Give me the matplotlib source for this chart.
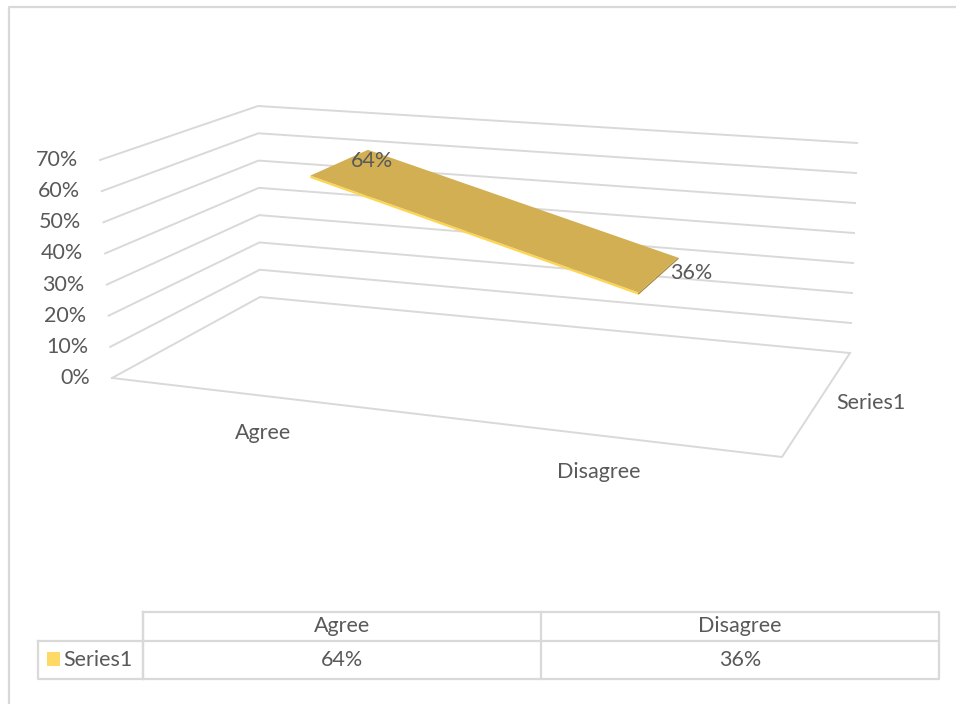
import numpy as np
import matplotlib.pyplot as plt
from matplotlib.patches import Polygon, Rectangle

categories = ['Agree', 'Disagree']
values = [0.64, 0.36]
series_name = 'Series1'
yticks = [0.0, 0.1, 0.2, 0.3, 0.4, 0.5, 0.6, 0.7]

plt.rcParams['font.family'] = ['Lato', 'DejaVu Sans']
TXT = '#595959'
GRID = '#D9D9D9'
FS = 15.5

# corners of the 3d box in pixels: (x, depth, z) -> screen
ZMAX = 0.7
C = {
    (0, 0, 0): (112, 378), (1, 0, 0): (782, 457),
    (0, 1, 0): (260, 297), (1, 1, 0): (850, 353),
    (0, 0, 1): (100, 160), (1, 0, 1): (779, 217),
    (0, 1, 1): (258, 106), (1, 1, 1): (857, 143),
}


def proj(x, d, z):
    t = z / ZMAX
    out = np.zeros(2)
    for i in (0, 1):
        for j in (0, 1):
            for k in (0, 1):
                w = (x if i else 1 - x) * (d if j else 1 - d) * (t if k else 1 - t)
                out += w * np.array(C[(i, j, k)])
    return out


fig = plt.figure(figsize=(9.56, 7.04), dpi=100)
ax = fig.add_axes([0, 0, 1, 1])
ax.set_xlim(0, 956)
ax.set_ylim(704, 0)
ax.axis('off')

# chart border (cropped at right/bottom)
ax.plot([9, 9, 956], [704, 7, 7], color=GRID, lw=1.6)

# walls gridlines
for z in yticks:
    a, b, c = proj(0, 0, z), proj(0, 1, z), proj(1, 1, z)
    ax.plot([a[0], b[0], c[0]], [a[1], b[1], c[1]], color=GRID, lw=1.4, zorder=1)
    ax.text(a[0] - 22, a[1], f'{z:.0%}', ha='right', va='center',
            fontsize=FS, color=TXT)

# floor front and right edges
f0, f1, f2 = proj(0, 0, 0), proj(1, 0, 0), proj(1, 1, 0)
ax.plot([f0[0], f1[0], f2[0]], [f0[1], f1[1], f2[1]], color=GRID, lw=1.4)

# 3d line ribbon
xs = [0.25 + 0.5 * i for i in range(len(categories))]
d0, d1 = 0.29, 0.71
for i in range(len(values) - 1):
    p1 = proj(xs[i], d0, values[i])
    p2 = proj(xs[i], d1, values[i])
    p3 = proj(xs[i + 1], d1, values[i + 1])
    p4 = proj(xs[i + 1], d0, values[i + 1])
    ax.plot([p1[0], p4[0]], [p1[1] + 1.2, p4[1] + 1.2], color='#FFD54F', lw=1.6,
            solid_capstyle='butt', zorder=3)
    ax.add_patch(Polygon([p1, p2, p3, p4], closed=True, facecolor='#D1AF52',
                         edgecolor='none', zorder=4))
    ax.plot([p4[0], p3[0]], [p4[1] + 1, p3[1] + 1], color='#A88A3A', lw=1.0,
            zorder=3)

# data labels
for x, v in zip(xs, values):
    p = proj(x, 0.5, v)
    ax.text(p[0] + 33, p[1] - 2, f'{v:.0%}', ha='center', va='center',
            fontsize=FS, color=TXT, zorder=5)

# category labels
for x, c in zip(xs, categories):
    p = proj(x, 0, 0)
    ax.text(p[0] - 16, p[1] + 35, c, ha='center', va='center',
            fontsize=FS, color=TXT)

# series (depth) label
p = proj(1, 0.5, 0)
ax.text(p[0] + 20, p[1] - 2, series_name, ha='left', va='center',
        fontsize=FS, color=TXT)

# data table
x0, xa, xb, x1 = 38, 143, 541, 939
yt, ym, yb = 612, 641, 679
ax.plot([xa, x1, x1, xa, xa], [yt, yt, yb, yb, yt], color=GRID, lw=1.6)
ax.plot([x0, x1], [ym, ym], color=GRID, lw=1.6)
ax.plot([x0, x0, xa], [ym, yb, yb], color=GRID, lw=1.6)
ax.plot([xa, xa], [yt, yb], color=GRID, lw=1.6)
ax.plot([xb, xb], [yt, yb], color=GRID, lw=1.6)
col_edges = [xa, xb, x1]
for i, (c, v) in enumerate(zip(categories, values)):
    cx = (col_edges[i] + col_edges[i + 1]) / 2
    ax.text(cx, (yt + ym) / 2, c, ha='center', va='center', fontsize=FS, color=TXT)
    ax.text(cx, (ym + yb) / 2, f'{v:.0%}', ha='center', va='center',
            fontsize=FS, color=TXT)
ax.add_patch(Rectangle((47, 652), 13, 14, facecolor='#FFD966', edgecolor='none'))
ax.text(63, (ym + yb) / 2, series_name, ha='left', va='center', fontsize=FS, color=TXT)

fig.savefig('out.png', dpi=100)
